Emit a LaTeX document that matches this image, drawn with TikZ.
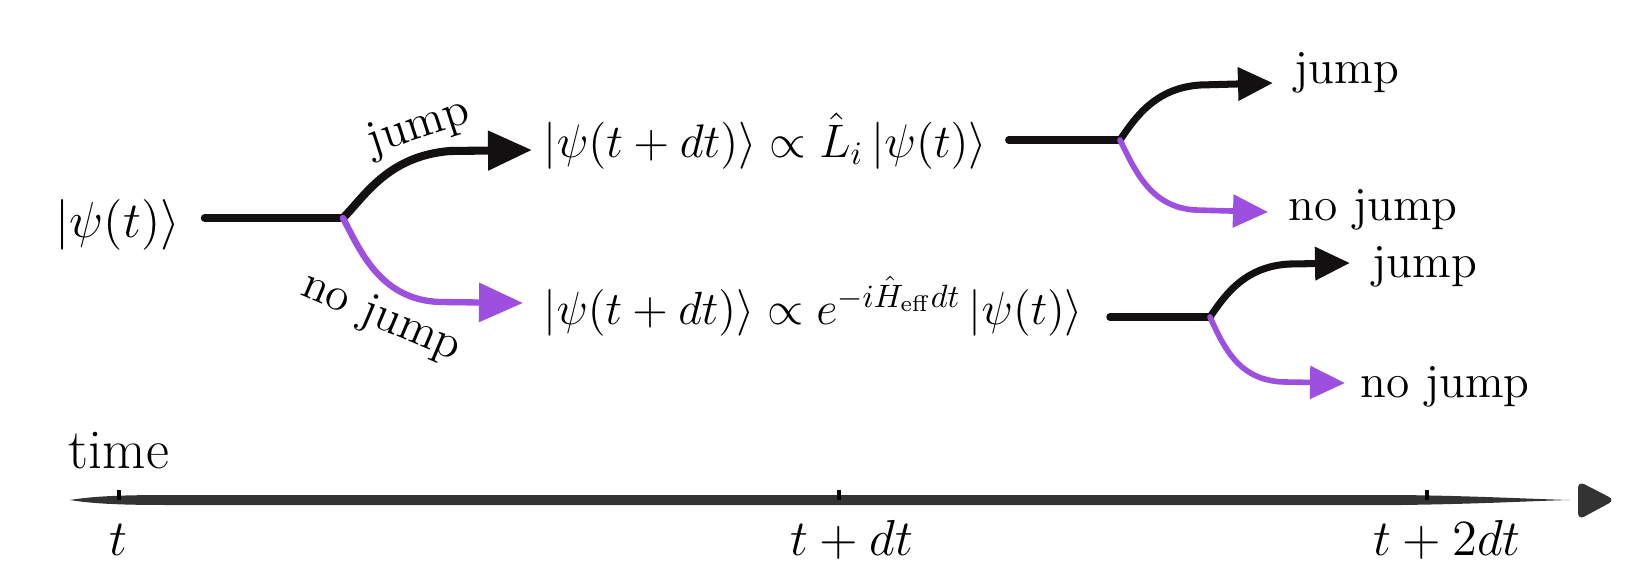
\documentclass[tikz,border=0pt]{standalone}
\usepackage{tikz}
\usetikzlibrary{arrows.meta}

\definecolor{brushblack}{HTML}{121010}
\definecolor{nojumppurple}{HTML}{9D50DF}
\definecolor{axisgray}{HTML}{333333}

\begin{document}
\begin{tikzpicture}[x=0.1mm, y=-0.1mm,
    every node/.style={inner sep=0pt, font=\fontsize{13.5}{16}\selectfont},
    mathlab/.style={font=\fontsize{14.4}{17}\selectfont},
    formula/.style={mathlab, anchor=base west},
    jumpline/.style={brushblack, line width=2pt, line cap=round, line join=round},
    nojumpline/.style={nojumppurple, line width=1.6pt, line cap=round},
    bigtip/.style={-{Triangle[length=4.4mm, width=3.8mm]}},
    smalltip/.style={-{Triangle[length=3.5mm, width=3.2mm]}}]

% picture size in pixels of the reference
\useasboundingbox (0,0) rectangle (1646,582);

% states
\node[mathlab] (psi0) at (118,225) {$|\psi(t)\rangle$};
\node[formula] (fjump) at (543,157) {\scalebox{0.93}{$|\psi(t+dt)\rangle \propto \hat{L}_i \, |\psi(t)\rangle$}};
\node[formula] (fnojump) at (543,324) {\scalebox{0.92}{$|\psi(t+dt)\rangle \propto e^{-i\hat{H}_{\mathrm{eff}}dt} \, |\psi(t)\rangle$}};

% branch points and arrow ends
\coordinate (j0) at (343,218);
\coordinate (j1) at (1120,140);
\coordinate (j2) at (1210,317);
\coordinate (e0j) at (532,150);
\coordinate (e0n) at (523,303);
\coordinate (e1j) at (1273,83);
\coordinate (e1n) at (1268,212);
\coordinate (e2j) at (1350,263);
\coordinate (e2n) at (1345,383);

% first step
\draw[jumpline, line width=2.3pt, shorten <=2.4mm] (psi0.east |- j0) -- (j0);
\draw[jumpline, line width=2.3pt, bigtip] (j0) .. controls (365,196) and (388,156) .. (450,151) -- (e0j);
\draw[nojumpline, line width=1.8pt, bigtip] (j0) .. controls (360,250) and (380,300) .. (440,302) -- (e0n);
\node[rotate=18] (ljump) at (419,128) {jump};
\node[rotate=-23] (lnojump) at (381,318) {no jump};

% second step, after a jump
\draw[jumpline, shorten <=2.1mm] (fjump.east |- j1) -- (j1);
\draw[jumpline, smalltip] (j1) .. controls (1135,118) and (1155,88) .. (1200,85) -- (e1j);
\draw[nojumpline, smalltip] (j1) .. controls (1135,170) and (1150,207) .. (1195,210) -- (e1n);
\node[anchor=base west] (r1jump) at (1294,83) {jump};
\node[anchor=base west] (r1nojump) at (1288,220) {no jump};

% second step, after no jump
\draw[jumpline, shorten <=2.6mm] (fnojump.east |- j2) -- (j2);
\draw[jumpline, smalltip] (j2) .. controls (1225,295) and (1245,266) .. (1290,264) -- (e2j);
\draw[nojumpline, smalltip] (j2) .. controls (1225,350) and (1240,381) .. (1285,382) -- (e2n);
\node[anchor=base west] (r2jump) at (1372,277) {jump};
\node[anchor=base west] (r2nojump) at (1360,397) {no jump};

% time axis
\node[anchor=base west, font=\fontsize{16}{18}\selectfont] (timelab) at (68,468) {time};
\fill[axisgray] (70,500) .. controls (100,495) and (140,495) .. (180,495) -- (1400,495)
    .. controls (1480,496) and (1530,499) .. (1570,500)
    .. controls (1530,501) and (1480,504) .. (1400,505) -- (180,505)
    .. controls (140,505) and (100,505) .. (70,500) -- cycle;
\fill[axisgray, rounded corners=2pt] (1578,481) -- (1615,500) -- (1578,520) -- cycle;

\foreach \x/\lx/\lab [count=\i] in {119/118/t, 839/852/t+dt, 1427/1447/t+2dt} {
    \draw[line width=1.4pt] (\x,490) -- (\x,500);
    \node[mathlab, anchor=base] (tick\i) at (\lx,555) {$\lab$};
}

\end{tikzpicture}
\end{document}
